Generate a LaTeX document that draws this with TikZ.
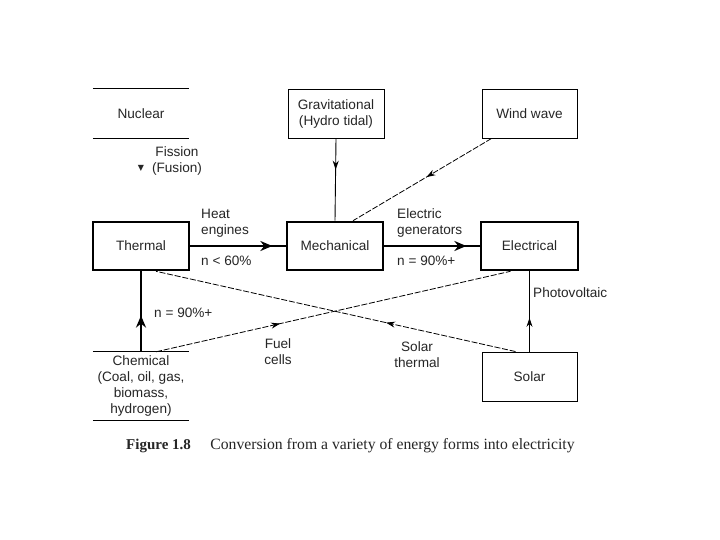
\documentclass[tikz,border=0pt]{standalone}
\usepackage{fontspec}
\setmainfont{Liberation Sans}
\newfontfamily\capfont{Liberation Serif}
\newfontfamily\symfont{DejaVu Sans}
\usetikzlibrary{arrows.meta,decorations.markings,calc}
\begin{document}
\begin{tikzpicture}[x=1pt,y=-1pt,
  every node/.style={font=\fontsize{13.6}{16}\selectfont, text=black!85, inner sep=0pt},
  thickbox/.style={draw, line width=2.6pt, minimum width=96pt, minimum height=48pt},
  thinbox/.style={draw, line width=0.9pt, minimum width=95pt, minimum height=49pt},
  openbox/.style={minimum width=96pt},
  lbl/.style={align=left, anchor=west},
  clbl/.style={align=center},
  thinline/.style={line width=0.9pt},
  thickline/.style={line width=2.6pt},
  dashline/.style={line width=0.8pt, dash pattern=on 6pt off 1.8pt},
  midarrow/.style={postaction={decorate},decoration={markings,mark=at position #1 with {\arrow{Stealth[length=9pt,width=6pt]}}}},
  bigarrow/.style={postaction={decorate},decoration={markings,mark=at position #1 with {\arrow{Stealth[length=12pt,width=10pt]}}}}
]
\useasboundingbox[fill=white] (0,0) rectangle (720,540);

% boxes
\node[openbox, minimum height=49pt] (nuc) at (141,113.5) {Nuclear};
\draw[thinline] (nuc.north west) -- (nuc.north east);
\draw[thinline] (nuc.south west) -- (nuc.south east);

\node[thinbox, minimum width=96pt, align=center] (grav) at (336,113.5) {Gravitational\\(Hydro tidal)};
\node[thinbox] (wind) at (529.5,113.5) {Wind wave};

\node[thickbox] (therm) at (141,246) {Thermal};
\node[thickbox] (mech) at (335,246) {Mechanical};
\node[thickbox, minimum width=97pt] (elec) at (529.5,246) {Electrical};

\node[openbox, minimum height=68pt, align=center] (chem) at (141,386) {Chemical\\(Coal, oil, gas,\\biomass,\\hydrogen)};
\draw[thinline] (chem.north west) -- (chem.north east);
\draw[thinline] (chem.south west) -- (chem.south east);

\node[thinbox] (solar) at (529.5,376.5) {Solar};

% labels
\node[clbl] (fis) at (177,161) {Fission\\(Fusion)};
\node (tri) at (141,168) {\symfont\fontsize{8}{8}\selectfont ▼};
\node[lbl] (heat) at (201,223) {Heat\\engines};
\node[lbl] (n60) at (201,261) {n < 60\%};
\node[lbl] (egen) at (397,223) {Electric\\generators};
\node[lbl] (n90a) at (397,261) {n = 90\%+};
\node[lbl] (n90b) at (154,313) {n = 90\%+};
\node[clbl] (fuel) at (278,351.5) {Fuel\\cells};
\node[clbl] (sth) at (417,354.5) {Solar\\thermal};
\node[lbl] (pv) at (533,293) {Photovoltaic};

% connectors
\draw[thinline, midarrow=0.38] (grav.south) -- (mech.north);
\coordinate (ws) at ($(wind.south west)+(10,0)$);
\coordinate (me) at ($(mech.north)+(18,0)$);
\draw[dashline, midarrow=0.47] (ws) -- (me);
\draw[thickline, bigarrow=0.86] (therm.east) -- (mech.west);
\draw[thickline, bigarrow=0.86] (mech.east) -- (elec.west);
\draw[thickline, bigarrow=0.45] (chem.north) -- (therm.south);
\coordinate (cf) at ($(chem.north)+(15,0)$);
\coordinate (eb) at ($(elec.south)+(-19,0)$);
\draw[dashline, midarrow=0.35] (cf) -- (eb);
\coordinate (st) at ($(solar.north)+(-14,0)$);
\coordinate (tb) at ($(therm.south)+(15,0)$);
\draw[dashline, midarrow=0.36] (st) -- (tb);
\draw[thinline, midarrow=0.42] (solar.north) -- (elec.south);

% caption
\node[anchor=west] (cap) at (126,446) {\capfont\fontsize{15}{18}\selectfont\textbf{Figure 1.8}\hspace{1.3em}\fontsize{15.7}{18}\selectfont Conversion from a variety of energy forms into electricity};
\end{tikzpicture}
\end{document}
